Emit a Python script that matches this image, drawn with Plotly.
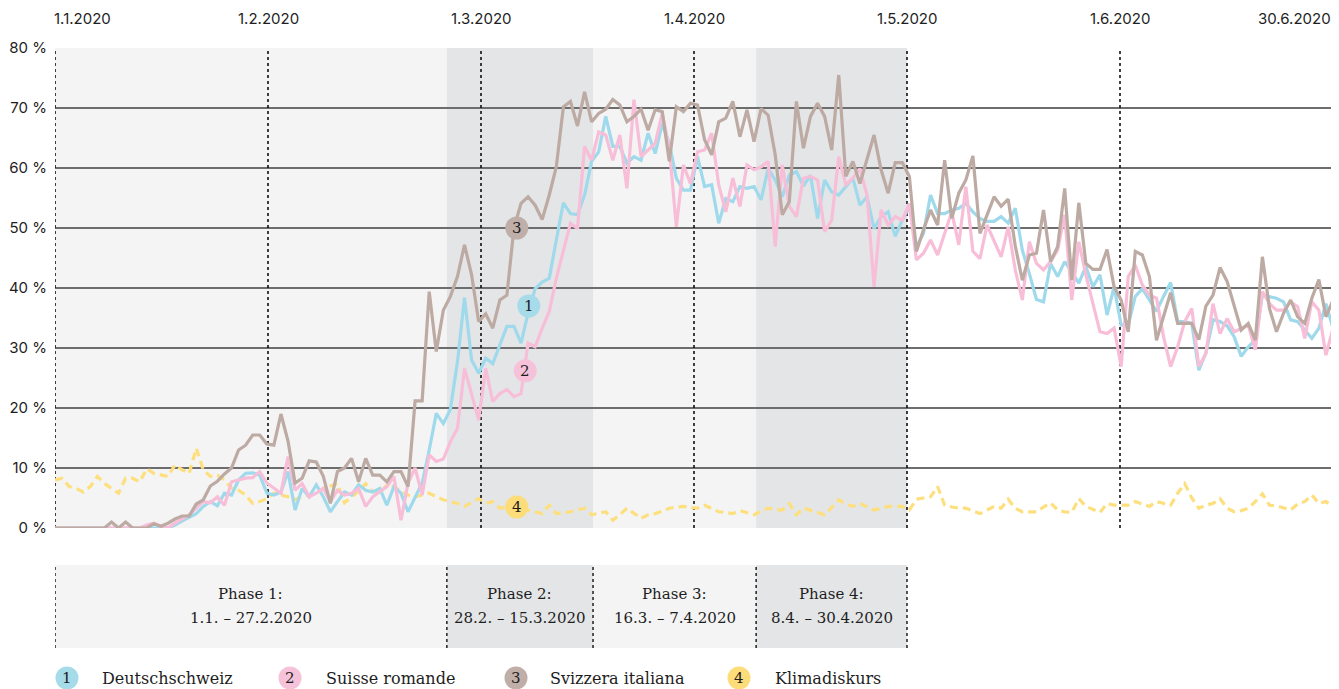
import plotly.graph_objects as go
import pandas as pd

# ---------------- data ----------------
dates = pd.date_range("2020-01-01", "2020-06-30", freq="D")
day_index = list(range(len(dates)))

month_labels = ["1.1.2020", "1.2.2020", "1.3.2020", "1.4.2020", "1.5.2020", "1.6.2020", "30.6.2020"]

series_names = ["Deutschschweiz", "Suisse romande", "Svizzera italiana", "Klimadiskurs"]

deutschschweiz = [0] * 17 + [
    0.5, 1.2, 1.8, 2.4, 3.6, 4.4, 3.7, 5.8, 5.5, 8,
    9.1, 9.2, 8.8, 5.8, 5.5, 6, 9.4, 3, 6.6, 5.2,
    7.2, 5.2, 2.7, 4.4, 6, 5.5, 7.2, 6.3, 6, 6.6,
    3.8, 6.9, 5.8, 2.7, 5.2, 7.5, 13, 19.1, 17.4, 19.8,
    27.7, 38.4, 28, 25.8, 28.3, 27.4, 30.5, 33.6, 33.6, 30.8,
    35.8, 39.9, 41, 41.6, 48, 54.2, 52.4, 52.2, 55.5, 61.1,
    62.7, 68.6, 63.6, 63.6, 60.8, 61.9, 61.3, 65.8, 62.4, 67.4,
    64.1, 58.3, 56.3, 56.3, 61.9, 56.9, 57.2, 50.8, 54.9, 54.4,
    56.9, 56.6, 56.9, 54.7, 59.9, 58, 55.2, 58.8, 59.4, 57,
    58.8, 51.6, 58, 56, 55.5, 56.9, 58.3, 53.8, 55.2, 49.9,
    51.9, 52.7, 48.6, 51.3, 53.6, 46.9, 49.1, 55.5, 52.4, 52.4,
    53, 53.3, 54.1, 52.7, 51.6, 51.1, 51.1, 51.9, 50.8, 53.3,
    46.3, 42.4, 38.1, 37.7, 44.1, 41.9, 44.4, 42.7, 40.8, 43.6,
    40.2, 42.2, 35.5, 40.2, 33.8, 33.8, 38.6, 39.9, 38, 36.1,
    38.6, 40.9, 34.4, 34.4, 34.1, 26.3, 29.2, 34.7, 34.4, 33.7,
    31.9, 28.6, 30.2, 31.3, 38.8, 38.6, 38.3, 37.7, 34.7, 34.4,
    33, 31.6, 33.3, 37.4, 33.3,
]

suisse_romande = [0] * 13 + [0.5, 0.8, 0.3, 0] + [
    0.8, 1.5, 2.2, 3.3, 4.4, 4.2, 5.2, 3.8, 7.7, 8,
    8.3, 8.4, 9.4, 7.5, 6.6, 5.8, 11.9, 6.3, 7.4, 5.2,
    5.8, 6.6, 4.4, 6.3, 5.5, 5.8, 6.6, 3.6, 5.2, 6.1,
    6.9, 8.6, 1.3, 7.5, 10, 5.5, 12.2, 11.1, 11.5, 14.4,
    16.6, 26.6, 22.4, 18, 26.6, 21.1, 22.4, 23.1, 21.9, 22.4,
    30.8, 30.2, 33.3, 36.1, 41.6, 46.3, 50.8, 49.9, 63.6, 61.3,
    66, 65.5, 61.3, 65.5, 56.6, 71.4, 61.9, 63, 64.1, 69.1,
    63.3, 50.2, 60.5, 57.4, 62.7, 63, 65.8, 57.2, 52.7, 58.3,
    53.6, 60.5, 59.7, 60.2, 61.1, 46.9, 60.5, 53.6, 51.9, 58.3,
    58.6, 58, 49.4, 51.3, 61.9, 57.2, 58.3, 59.9, 55.5, 40.2,
    53, 50.5, 51.9, 51.3, 54.1, 44.7, 45.8, 48, 45.5, 49.1,
    52.7, 47.2, 56.9, 46.1, 44.9, 50.5, 48, 45.2, 50.2, 43,
    38, 47.7, 44.1, 43, 44.4, 46.3, 52.2, 38, 47.7, 42.2,
    37.4, 32.7, 32.4, 33.3, 26.9, 41.9, 43.8, 40.5, 38.8, 38.3,
    31.9, 26.9, 30.2, 34.4, 36.6, 26.9, 29.1, 37.4, 32.4, 34.9,
    32.7, 33.3, 33.8, 29.7, 39.4, 37.4, 36.3, 36.3, 37.7, 36.9,
    31.6, 37.7, 36.3, 28.8, 33.3,
]

svizzera_italiana = [0] * 8 + [1, 0, 1, 0, 0, 0, 0.7, 0.3, 0.8] + [
    1.5, 2, 2, 4, 4.7, 7, 7.8, 9, 10, 13,
    13.8, 15.5, 15.5, 14, 13.8, 19, 14.5, 7.5, 8.3, 11.2,
    11, 8.6, 4.1, 9.4, 10, 11.6, 7.7, 11.6, 8.8, 8.8,
    7.7, 9.4, 9.4, 6.9, 21.2, 21.2, 39.4, 29.4, 36.3, 38.6,
    41.9, 47.2, 42.2, 34.4, 35.7, 33.3, 38, 38.8, 50, 54.1,
    55.2, 53.8, 51.4, 55.5, 60.2, 70.2, 71.1, 67, 72.7, 67.7,
    69.1, 69.8, 71.4, 70.5, 67.7, 68.6, 69.8, 66.3, 69.7, 69.4,
    61.1, 70.2, 69.4, 70.8, 70.5, 64.7, 62.2, 67.7, 68.3, 71.1,
    65.2, 69.7, 64.4, 69.9, 68.8, 62.2, 52.2, 54.4, 71.1, 63.3,
    68.6, 70.8, 68.6, 63, 75.5, 58.6, 61.1, 57.4, 61.3, 65.5,
    59.7, 55.8, 60.9, 60.9, 58.6, 46.1, 49.7, 53, 50.5, 61.3,
    51.6, 55.8, 58, 62, 49.1, 52.2, 55.2, 53.6, 54.8, 47,
    41.3, 45.5, 45.8, 53, 44.4, 46.9, 56.6, 41.3, 54.2, 44.1,
    43.1, 43.1, 46.4, 40.2, 38, 32.7, 46.1, 45.5, 41.9, 31.3,
    35.2, 39.2, 34.1, 34.1, 34.1, 31.4, 37, 38.8, 43.4, 41.1,
    37.2, 33, 34.1, 31.3, 45.2, 36.6, 32.7, 35.8, 38, 35.2,
    34.1, 38.3, 41.4, 35.2, 38,
]

klimadiskurs = [
    8, 8.3, 6.9, 6.6, 6, 6.9, 8.6, 7.4, 6.6, 5.8,
    8.3, 8.3, 7.7, 9.9, 9.1, 8.8, 8.6, 10.5, 9.7, 9.1,
    13.3, 9.7, 8.6, 8.8, 8, 6.6, 6.3, 5.5, 4.1, 4.4,
    4.9, 5.8, 5.5, 5.2, 4.7, 5.3, 5.5, 5.8, 6.6, 7,
    7.4, 4.2, 5.2, 6.1, 7.4, 6.1, 5.8, 7.2, 6.9, 6.1,
    5.5, 5.2, 5.5, 5.8, 5.2, 4.7, 4.4, 4.1, 3.6, 4.2,
    4.9, 4.1, 4.4, 3.3, 3.5, 3.6, 3.2, 3, 2.7, 2.4,
    3.8, 2.4, 2.5, 2.7, 3, 3.3, 2.2, 2.5, 2.7, 1.3,
    2.2, 3.3, 2.4, 1.6, 2.2, 2.4, 2.8, 3.3, 3.5, 3.6,
    3.4, 3.3, 3.8, 3.2, 2.7, 2.6, 2.4, 2.9, 2.6, 2.2,
    2.8, 3.3, 3.1, 3, 4.1, 2.2, 3.3, 3, 2.6, 2.2,
    3.5, 4.7, 4, 3.6, 4.1, 3.6, 3, 3.3, 3.6, 3.6,
    3.6, 3, 4.8, 5, 5.2, 6.9, 3.8, 3.5, 3.3, 3.3,
    2.8, 2.4, 3, 3.6, 3.3, 4.8, 3.3, 2.7, 2.7, 2.7,
    3.5, 4.2, 3, 2.7, 2.6, 4.9, 3.6, 3.1, 2.6, 4.1,
    3.8, 3.8, 3.8, 4.4, 4, 3.6, 4.4, 4.1, 3.8, 5.8,
    7.4, 5, 3.3, 3.8, 4.1, 4.9, 3.3, 2.7, 2.9, 3.3,
    4.4, 5.7, 3.8, 3.7, 3.3, 3, 4, 4.4, 5.5, 4.1,
    4.4, 3.6,
]

phase_names = ["Phase 1:", "Phase 2:", "Phase 3:", "Phase 4:"]
phase_ranges = ["1.1. – 27.2.2020", "28.2. – 15.3.2020", "16.3. – 7.4.2020", "8.4. – 30.4.2020"]

y_ticks = [0, 10, 20, 30, 40, 50, 60, 70, 80]
y_ticktext = [f"{v} %" for v in y_ticks]

# ---------------- style ----------------
OFF = 8                      # page body margin around the figure
W, H = 1339 - OFF, 689 - OFF
ML, MT = 55 - OFF, 48 - OFF  # plot area starts at page px (55, 48)
PW, PH = 1278, 480
MR = W - ML - PW
MB = H - MT - PH
N = len(dates)
XMAX = N - 1

month_pos = [k * XMAX / 6 for k in range(7)]          # evenly spaced markers as in original
phase_edges = [0, 55.5, 76.2, 99.3, month_pos[4]]      # shaded phase bands
phase_fill = ["#f4f4f4", "#e4e5e7", "#f4f4f4", "#e4e5e7"]

line_colors = ["#9fd9ec", "#f8bed8", "#bcaaa3", "#fddf7e"]
badge_colors = ["#a6dbea", "#f6c2da", "#c0aea8", "#fddc7a"]
badge_pos = [(67.1, 37.0), (66.6, 26.2), (65.4, 50.0), (65.4, 3.5)]

SANS = "Inter, Lato, sans-serif"
SERIF = "DejaVu Serif, serif"
TXT = "#1e1e1e"


def py_to_paper(py):
    """page pixel y -> paper coordinate"""
    return (48 + PH - py) / PH


def px_to_paper(px):
    """page pixel x -> paper coordinate"""
    return (px - 55) / PW


fig = go.Figure()

series = [deutschschweiz, suisse_romande, svizzera_italiana, klimadiskurs]
order = [3, 0, 1, 2]
for k in order:
    fig.add_trace(go.Scatter(
        x=day_index, y=series[k], mode="lines", name=series_names[k],
        line=dict(color=line_colors[k], width=3.2,
                  dash="8px,5px" if k == 3 else "solid"),
        showlegend=False, hoverinfo="skip",
    ))

shapes = []
annotations = []

# phase shading in the plot
for i in range(4):
    shapes.append(dict(type="rect", xref="x", yref="y", x0=phase_edges[i], x1=phase_edges[i + 1],
                       y0=0, y1=80, fillcolor=phase_fill[i], line=dict(width=0), layer="below"))

# dotted month markers
for xp in month_pos:
    shapes.append(dict(type="line", xref="x", yref="y", x0=xp, x1=xp, y0=0, y1=80,
                       line=dict(color="#111111", width=1.6, dash="dot"), layer="between"))

# month labels on top
for k, (xp, lab) in enumerate(zip(month_pos, month_labels)):
    anchor = "left" if k == 0 else ("right" if k == 6 else "center")
    shift = -3 if k == 0 else 0
    annotations.append(dict(x=xp, y=py_to_paper(18), xref="x", yref="paper", text=lab,
                            showarrow=False, xanchor=anchor, yanchor="middle", xshift=shift,
                            font=dict(family=SANS, size=15, color=TXT)))

# phase table below the plot
t_top, t_bot = py_to_paper(565), py_to_paper(648)
for i in range(4):
    shapes.append(dict(type="rect", xref="x", yref="paper", x0=phase_edges[i], x1=phase_edges[i + 1],
                       y0=t_bot, y1=t_top, fillcolor=phase_fill[i], line=dict(width=0), layer="below"))
    xm = (phase_edges[i] + phase_edges[i + 1]) / 2
    annotations.append(dict(x=xm, y=py_to_paper(594), xref="x", yref="paper", text=phase_names[i],
                            showarrow=False, xanchor="center", yanchor="middle",
                            font=dict(family=SERIF, size=15, color=TXT)))
    annotations.append(dict(x=xm, y=py_to_paper(618), xref="x", yref="paper", text=phase_ranges[i],
                            showarrow=False, xanchor="center", yanchor="middle",
                            font=dict(family=SERIF, size=15, color=TXT)))
for xe in phase_edges:
    shapes.append(dict(type="line", xref="x", yref="paper", x0=xe, x1=xe, y0=t_bot, y1=t_top,
                       line=dict(color="#111111", width=1.4, dash="dot"), layer="above"))

# badges inside the chart
for k in range(4):
    bx, by = badge_pos[k]
    shapes.append(dict(type="circle", xref="x", yref="y", xsizemode="pixel", ysizemode="pixel",
                       xanchor=bx, yanchor=by, x0=-11.5, x1=11.5, y0=-11.5, y1=11.5,
                       fillcolor=badge_colors[k], line=dict(width=0), layer="above"))
    annotations.append(dict(x=bx, y=by, xref="x", yref="y", text=str(k + 1), showarrow=False,
                            xanchor="center", yanchor="middle",
                            font=dict(family=SERIF, size=15, color=TXT)))

# custom legend
leg_circle_px = [67, 290, 516, 739]
leg_text_px = [100, 324, 548, 773]
ly = py_to_paper(678)
for k in range(4):
    cx = px_to_paper(leg_circle_px[k])
    shapes.append(dict(type="circle", xref="paper", yref="paper", xsizemode="pixel", ysizemode="pixel",
                       xanchor=cx, yanchor=ly, x0=-11.5, x1=11.5, y0=-11.5, y1=11.5,
                       fillcolor=badge_colors[k], line=dict(width=0)))
    annotations.append(dict(x=cx, y=ly, xref="paper", yref="paper", text=str(k + 1), showarrow=False,
                            xanchor="center", yanchor="middle",
                            font=dict(family=SERIF, size=15, color=TXT)))
    annotations.append(dict(x=px_to_paper(leg_text_px[k]), y=ly, xref="paper", yref="paper",
                            text=series_names[k], showarrow=False, xanchor="left", yanchor="middle",
                            font=dict(family=SERIF, size=16, color=TXT)))

fig.update_layout(
    width=W, height=H,
    margin=dict(l=ML, r=MR, t=MT, b=MB, pad=0, autoexpand=False),
    paper_bgcolor="white", plot_bgcolor="white",
    shapes=shapes, annotations=annotations,
    showlegend=False,
    xaxis=dict(range=[0, XMAX], showgrid=False, zeroline=False, showticklabels=False,
               ticks="", showline=False, fixedrange=True, automargin=False),
    yaxis=dict(range=[0, 80], tickvals=y_ticks, ticktext=y_ticktext, showgrid=True,
               gridcolor="#6d6d6d", gridwidth=2, zeroline=False, ticks="", showline=False,
               tickfont=dict(family=SANS, size=15, color=TXT), ticklabelstandoff=7,
               fixedrange=True, automargin=False),
)

fig.write_html("out.html")
